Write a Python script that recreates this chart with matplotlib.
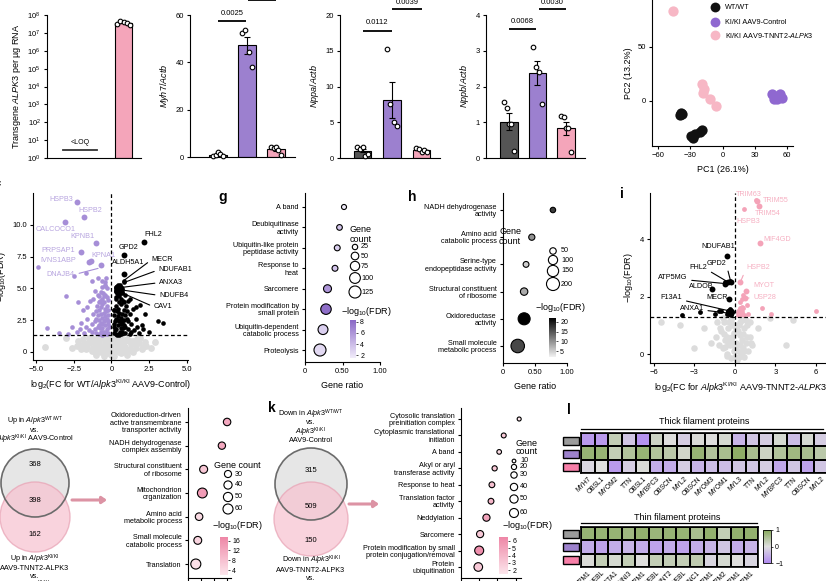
import matplotlib
matplotlib.use("Agg")
import matplotlib.pyplot as plt
import numpy as np
from matplotlib.colors import LinearSegmentedColormap, Normalize
from matplotlib.patches import Circle, Rectangle
from matplotlib.cm import ScalarMappable
from matplotlib.ticker import NullLocator

plt.rcParams['font.family'] = ['Liberation Sans', 'DejaVu Sans']
plt.rcParams['font.size'] = 5.5
plt.rcParams['axes.linewidth'] = 0.8
plt.rcParams['xtick.major.width'] = 0.8
plt.rcParams['ytick.major.width'] = 0.8
plt.rcParams['xtick.major.size'] = 2.5
plt.rcParams['ytick.major.size'] = 2.5
plt.rcParams['xtick.major.pad'] = 2
plt.rcParams['ytick.major.pad'] = 2
plt.rcParams['xtick.labelsize'] = 5.5
plt.rcParams['ytick.labelsize'] = 5.5
plt.rcParams['mathtext.fontset'] = 'custom'
plt.rcParams['mathtext.rm'] = 'Liberation Sans'
plt.rcParams['mathtext.it'] = 'Liberation Sans:italic'
plt.rcParams['mathtext.bf'] = 'Liberation Sans:bold'

# ---------------- data ----------------
# transgene ALPK3 copies per ug RNA
loq_level = 2.8
transgene_alpk3 = [3.0e7, 4.5e7, 4.0e7, 3.8e7, 2.6e7]

# qPCR ratios (WT/WT, KI/KI AAV9-Control, KI/KI AAV9-TNNT2-ALPK3)
myh7_wt = [0.3, 1.0, 2.0, 1.3, 0.5]
myh7_ctrl = [52.5, 53.5, 44.5, 38.0]
myh7_alpk3 = [4.2, 4.0, 4.1, 3.0, 0.8]
nppa_wt = [1.5, 1.2, 1.5, 0.3, 0.6]
nppa_ctrl = [15.3, 7.6, 5.0, 4.5]
nppa_alpk3 = [1.4, 1.3, 0.9, 1.1, 0.8]
nppb_wt = [1.57, 1.41, 0.95, 0.95, 0.19]
nppb_ctrl = [3.1, 2.55, 2.4, 1.5]
nppb_alpk3 = [1.18, 1.15, 0.83, 0.83, 0.17]

# PCA
pca_wt_x = [-40, -38.5, -37.5, -29, -27.5, -26, -21, -19.5]
pca_wt_y = [-13, -11, -12, -32, -34, -31, -29, -27]
pca_ctrl_x = [46.5, 48, 50.5, 53.5, 55]
pca_ctrl_y = [6, 2, 1.5, 6, 2.5]
pca_alpk3_x = [-46, -19, -18, -17, -12, -6]
pca_alpk3_y = [83, 16, 7, 11, 2, -5]

# volcano f (WT vs KI/KI control)
f_grey = [(-2.6, 0.3), (-2.3, 0.5), (-2.0, 0.2), (-1.8, 0.7), (-1.6, 0.4), (-1.4, 0.9), (-1.3, 0.1),
          (-1.1, 0.6), (-1.0, 1.1), (-0.9, 0.3), (-0.8, 0.8), (-0.7, 0.0), (-0.6, 1.2), (-0.5, 0.5),
          (-0.4, 0.9), (-0.3, 0.2), (-0.2, 1.1), (-0.1, 0.6), (0.0, 0.0), (0.1, 0.7), (0.2, 1.2),
          (0.3, 0.3), (0.4, 0.9), (0.5, 0.5), (0.6, 1.1), (0.7, 0.2), (0.8, 0.8), (0.9, 0.4),
          (1.0, 1.0), (1.1, 0.1), (1.3, 0.6), (1.4, 0.9), (1.6, 0.3), (1.8, 0.7), (2.0, 0.2),
          (2.3, 0.5), (2.6, 0.3), (-1.9, 1.0), (-1.5, 1.1), (-1.2, 0.3), (-0.9, 0.5), (-0.6, 0.2),
          (-0.3, 0.7), (0.0, -0.2), (0.3, 0.4), (0.6, -0.1), (0.9, 0.9), (1.2, 0.2), (1.5, 0.6),
          (1.9, 1.1), (-1.0, -0.2), (-0.5, -0.3), (0.0, 0.4), (0.5, 0.0), (1.0, -0.2), (-0.7, 0.5),
          (-0.2, 0.8), (0.2, 0.0), (0.7, 0.6), (-3.0, 1.1), (2.9, 0.8), (-4.4, 0.4),
          (-2.2, 0.9), (-1.7, 0.2), (-1.5, 0.7), (-1.2, 1.0), (-0.8, 0.3), (-0.4, 0.1), (0.1, 1.0),
          (0.4, 0.2), (0.8, 0.1), (1.2, 0.9), (1.7, 1.0), (2.2, 0.8), (-0.5, 1.2), (0.3, 1.1),
          (-1.1, 0.0), (1.4, 0.0), (-2.0, 0.5), (2.1, 0.4), (-0.3, -0.1), (0.2, -0.3)]
f_purple = [(-0.2, 1.5), (-0.3, 1.8), (-0.4, 2.1), (-0.5, 2.4), (-0.6, 2.7), (-0.7, 3.0), (-0.8, 3.3),
            (-0.3, 3.6), (-0.5, 3.9), (-0.6, 4.2), (-0.4, 4.5), (-0.3, 5.0), (-0.9, 2.0), (-1.0, 2.6),
            (-0.2, 2.9), (-0.35, 3.2), (-0.55, 1.6), (-0.75, 1.9), (-0.65, 2.2), (-0.85, 2.5),
            (-0.45, 2.8), (-0.25, 2.4), (-0.15, 2.0), (-0.95, 3.6), (-0.75, 4.0), (-0.55, 4.6),
            (-0.45, 5.3), (-1.1, 1.8), (-1.3, 2.2), (-1.5, 1.7), (-1.2, 3.0), (-1.6, 2.6), (-1.8, 1.5),
            (-2.0, 2.3), (-2.3, 1.6), (-1.4, 4.0), (-1.1, 4.8), (-1.3, 5.6), (-0.9, 5.8), (-1.9, 3.3),
            (-2.2, 3.9), (-2.6, 2.0), (-3.0, 4.4), (-4.3, 1.9), (-4.9, 6.7), (-3.5, 1.5), (-2.5, 6.0),
            (-1.7, 6.2), (-0.8, 1.4), (-0.6, 1.35), (-0.35, 1.5), (-2.9, 1.4), (-0.7, 3.5),
            (-0.85, 4.4), (-0.25, 4.1), (-0.65, 5.1), (-1.0, 1.5), (-0.4, 1.6),
            (-0.3, 2.6), (-0.5, 3.1), (-0.7, 2.3), (-0.9, 2.9), (-0.4, 3.4), (-0.6, 3.8), (-0.8, 3.9),
            (-0.2, 3.3), (-0.3, 4.3), (-0.5, 4.4), (-0.7, 4.7), (-0.4, 5.2), (-0.6, 1.9), (-0.4, 2.5),
            (-0.2, 2.2), (-0.8, 2.1), (-1.0, 3.2), (-1.1, 2.4), (-1.3, 1.6), (-0.5, 1.45), (-0.3, 1.4),
            (-0.7, 1.6), (-1.2, 4.2), (-0.9, 4.5), (-1.6, 3.5), (-1.7, 2.0), (-2.1, 1.8), (-0.45, 5.5),
            (-0.6, 5.6), (-0.35, 5.8)]
f_black = [(0.2, 1.5), (0.3, 1.8), (0.4, 2.1), (0.5, 2.4), (0.6, 2.7), (0.7, 3.0), (0.8, 3.3),
           (0.3, 3.6), (0.5, 3.9), (0.6, 4.2), (0.4, 4.5), (0.3, 4.8), (0.9, 2.0), (1.0, 2.6),
           (0.2, 2.9), (0.35, 3.2), (0.55, 1.6), (0.75, 1.9), (0.65, 2.2), (0.85, 2.5), (0.45, 2.8),
           (0.25, 2.4), (0.15, 2.0), (0.95, 3.6), (0.75, 4.0), (0.55, 4.6), (0.8, 5.5), (0.8, 5.6),
           (1.1, 1.8), (1.3, 2.2), (1.5, 1.7), (1.2, 3.0), (1.6, 2.6), (1.8, 1.5), (2.0, 2.1),
           (1.1, 4.0), (1.4, 3.4), (2.5, 1.6), (3.1, 2.4), (3.4, 2.3), (2.2, 3.0), (1.9, 3.7),
           (1.2, 1.4), (0.35, 1.35), (0.6, 1.4), (0.9, 1.5), (0.3, 4.2), (0.7, 4.6), (0.2, 3.3),
           (0.5, 1.3), (0.7, 2.4),
           (0.3, 2.6), (0.5, 3.1), (0.7, 2.3), (0.9, 2.9), (0.4, 3.4), (0.6, 3.8), (0.8, 3.9),
           (0.2, 3.3), (0.3, 4.3), (0.5, 4.4), (0.7, 4.7), (0.2, 2.2), (0.6, 1.9), (0.4, 2.5),
           (0.8, 2.1), (1.0, 3.2), (1.1, 2.4), (1.3, 1.6), (0.5, 1.45), (0.3, 1.4), (0.7, 1.6),
           (1.2, 4.2), (0.9, 4.5), (1.6, 3.5), (1.7, 2.0), (2.1, 1.8), (0.4, 5.3), (0.3, 5.1),
           (0.55, 5.3), (0.25, 1.7)]
f_big_black = [(0.45, 5.0), (0.55, 4.95), (0.4, 4.8)]
f_purple_named = [("HSPB3", -2.3, 11.8, -3.35, 12.0), ("HSPB2", -1.8, 10.6, -1.4, 11.1),
                  ("CALCOCO1", -3.1, 10.2, -3.7, 9.6), ("KPNB1", -1.0, 8.6, -1.9, 9.05),
                  ("PRPSAP1", -2.0, 7.9, -3.5, 8.0), ("KPNA1", -0.7, 6.8, -0.55, 7.55),
                  ("IVNS1ABP", -1.5, 7.05, -3.5, 7.2)]
f_dnajb4 = ("DNAJB4", -0.8, 6.6, -3.35, 6.1)
f_extra_purple = [(-1.35, 7.15)]
f_black_named = [("FHL2", 2.15, 8.65, 2.75, 9.2), ("GPD2", 0.8, 7.65, 1.1, 8.2),
                 ("ALDH5A1", 0.8, 6.15, 1.1, 7.0)]
f_black_lines = [("MECR", 0.8, 5.6, 2.65, 7.25), ("NDUFAB1", 0.8, 5.45, 3.1, 6.45),
                 ("ANXA3", 0.5, 5.05, 3.15, 5.45), ("NDUFB4", 0.55, 4.9, 3.15, 4.45),
                 ("CAV1", 0.6, 4.7, 2.8, 3.55)]

# volcano i (KI/KI ALPK3 vs WT)
i_grey = [(-1.2, 0.3), (-1.0, 0.8), (-0.9, 0.2), (-0.8, 1.1), (-0.7, 0.5), (-0.6, 0.0), (-0.5, 0.9),
          (-0.4, 0.3), (-0.3, 1.2), (-0.2, 0.6), (-0.1, 0.1), (0.0, 1.0), (0.1, 0.4), (0.2, 0.8),
          (0.3, -0.1), (0.4, 1.1), (0.5, 0.5), (0.6, 0.2), (0.7, 0.9), (0.8, 0.4), (0.9, 1.0),
          (1.0, 0.1), (1.1, 0.6), (1.3, 0.3), (-1.4, 0.6), (-0.3, -0.15), (0.2, 0.1), (-0.6, 0.6),
          (0.5, 1.2), (-0.9, 1.25), (0.15, -0.2), (-0.15, 0.35), (0.35, 0.65), (0.65, -0.1),
          (-0.45, 1.1), (-5.5, 1.1), (-4.1, 1.0), (-2.3, 0.9), (-1.8, 0.4), (1.7, 0.9),
          (2.6, 1.25), (3.8, 0.3), (4.3, 1.2), (-3.0, 0.2), (-0.05, 0.75), (0.45, 0.0), (-0.75, 0.25),
          (-0.8, 0.7), (-0.3, 0.5), (0.0, 0.2), (0.3, 1.0), (0.6, 0.7), (0.9, 0.6), (1.1, 1.1),
          (-1.1, 0.9), (-0.5, 0.4), (0.1, 0.9), (0.4, 0.3), (-0.2, 1.0), (0.8, 1.2), (0.0, -0.1),
          (-0.6, -0.05), (0.7, 0.1), (1.2, 0.4), (-1.3, 1.1)]
i_pink = [(0.6, 2.05), (0.7, 1.95), (0.5, 1.9), (0.4, 1.8), (0.6, 1.6), (0.35, 1.6), (0.45, 1.5),
          (0.35, 1.4), (0.5, 1.38), (0.7, 1.35), (2.0, 1.6), (2.7, 1.4), (6.0, 1.5), (1.0, 1.4),
          (0.25, 1.35), (0.55, 1.65), (0.65, 5.05), (1.55, 5.35), (0.9, 1.7)]
i_black = [(-0.5, 2.5), (-0.35, 2.55), (-0.7, 2.5), (-0.4, 1.55), (-0.35, 1.45), (-0.45, 1.4),
           (-0.3, 1.35), (-0.5, 1.5), (-0.6, 1.38), (-0.25, 1.45), (-1.0, 1.5), (-1.2, 1.5),
           (-1.5, 1.4), (-2.6, 1.45), (-3.9, 1.35)]
i_pink_named = [("TRIM55", 1.6, 5.33, 2.1, 5.33), ("TRIM54", 1.8, 5.15, 1.45, 4.9),
                ("MIF4GD", 1.85, 3.87, 2.1, 4.0), ("MYOT", 0.8, 2.2, 1.35, 2.4)]
i_pink_text = [("TRIM63", 0.1, 5.55), ("HSPB3", 0.1, 4.6)]
i_pink_lines = [("HSPB2", 0.4, 2.5, 0.85, 3.0), ("USP28", 0.75, 1.95, 1.35, 1.95)]
i_black_named = [("NDUFAB1", -0.6, 3.4, -1.25, 3.75), ("ALDOB", -1.7, 2.25, -2.5, 2.35),
                 ("MECR", -0.45, 1.92, -1.3, 1.95)]
i_black_lines = [("GPD2", -0.3, 2.5, -1.35, 3.15), ("FHL2", -0.5, 2.5, -2.7, 3.0),
                 ("ATP5MG", -0.7, 2.45, -4.6, 2.65), ("F13A1", -0.4, 1.5, -4.7, 1.95),
                 ("ANXA1", -0.4, 1.42, -3.2, 1.6)]

# GO enrichment dot plots
g_terms = ["A band", "Deubiquitinase\nactivity", "Ubiquitin-like protein\npeptidase activity",
           "Response to\nheat", "Sarcomere", "Protein modification by\nsmall protein",
           "Ubiquitin-dependent\ncatabolic process", "Proteolysis"]
g_ratio = [0.52, 0.46, 0.43, 0.40, 0.30, 0.28, 0.24, 0.20]
g_count = [22, 28, 30, 30, 55, 95, 85, 125]
g_fdr = [1.5, 3.5, 3.0, 3.5, 6.0, 8.0, 3.0, 2.5]

h_terms = ["NADH dehydrogenase\nactivity", "Amino acid\ncatabolic process",
           "Serine-type\nendopeptidase activity", "Structural constituent\nof ribosome",
           "Oxidoreductase\nactivity", "Small molecule\nmetabolic process"]
h_ratio = [0.78, 0.45, 0.36, 0.33, 0.33, 0.23]
h_count = [35, 45, 40, 65, 170, 215]
h_fdr = [17, 10, 5, 8, 22, 16]

j_terms = ["Oxidoreduction-driven\nactive transmembrane\ntransporter activity",
           "NADH dehydrogenase\ncomplex assembly", "Structural constituent\nof ribosome",
           "Mitochondrion\norganization", "Amino acid\nmetabolic process",
           "Small molecule\ncatabolic process", "Translation"]
j_ratio = [0.30, 0.26, 0.12, 0.11, 0.085, 0.075, 0.06]
j_count = [33, 32, 38, 58, 34, 37, 60]
j_fdr = [12, 12, 7, 14, 4, 5, 3]

k_terms = ["Cytosolic translation\npreinitiation complex", "Cytoplasmic translational\ninitiation",
           "A band", "Akyl or aryl\ntransferase activity", "Response to heat",
           "Translation factor\nactivity", "Neddylation", "Sarcomere",
           "Protein modification by small\nprotein conjugation/removal", "Protein\nubiquitination"]
k_ratio = [0.32, 0.235, 0.21, 0.185, 0.17, 0.165, 0.14, 0.105, 0.10, 0.095]
k_count = [12, 18, 16, 20, 25, 25, 38, 38, 60, 55]
k_fdr = [1.5, 3, 2, 3, 3.5, 4, 5, 3, 6, 3]

# Venn counts
venn_up = [368, 398, 162]
venn_down = [315, 509, 150]

# heatmaps (z-scores; rows WT/WT, KI/KI control, KI/KI ALPK3)
thick_cols = ["MYH7", "OBSL1", "MYOM2", "TTN", "OBSL1", "MYBPC3", "OBSCN", "MYL2", "OBSCN",
              "MYOM3", "MYOM1", "MYL3", "TTN", "MYL2", "MYBPC3", "TTN", "OBSCN", "MYL2"]
thick_wt = [-0.8, -0.8, 0.3, -0.3, -0.9, 0.2, 0.0, -0.2, 0.05, 0.0, 0.1, -0.5, -0.3, -0.2, 0.1, -0.4, 0.1, -0.2]
thick_ctrl = [0.8, 0.8, 0.3, 0.5, 0.8, 0.5, 0.4, 0.15, 0.8, 0.5, 0.6, 0.9, 0.6, 0.2, 0.5, 0.7, 0.6, 0.4]
thick_alpk3 = [-0.1, 0.0, -0.8, -0.2, 0.05, -0.6, -0.6, -0.2, -0.5, -0.4, -0.4, -0.3, -0.3, -0.2, -0.65, -0.3, -0.7, -0.3]
thin_cols = ["TPM1", "NEBL", "ACTA1", "TNNI3", "TPM1", "NEBL", "TNNT2", "NEBL", "TNNC1",
             "TPM1", "TPM2", "TPM1", "TPM1"]
thin_wt = [0.8, 0.8, 0.8, 0.7, 0.85, 0.75, 0.8, 0.8, 0.6, 0.85, 0.3, 0.85, 0.85]
thin_ctrl = [-0.6, -0.7, -0.6, -0.5, -0.6, -0.7, -0.6, -0.7, -0.6, -0.5, -0.3, -0.6, -0.5]
thin_alpk3 = [0.05, 0.3, 0.1, 0.3, 0.0, 0.3, 0.3, 0.3, 0.35, -0.1, 0.1, 0.0, -0.1]

# ---------------- style ----------------
C_GREY = "#555555"
C_PURPLE = "#9c80cf"
C_PINK = "#f4a5ba"
C_PCA_PURPLE = "#8f68d0"
C_PCA_PINK = "#f7b7c5"
C_F_PURPLE = "#a68ed7"
C_F_LABEL = "#b7a4df"
C_I_PINK = "#f4a3b8"
C_I_LABEL = "#f6b0c2"
C_VOL_GREY = "#dcdcdc"

W, H = 826, 581
fig = plt.figure(figsize=(W / 100, H / 100), dpi=100)


def add_ax(l, t, r, b):
    return fig.add_axes([l / W, 1 - b / H, (r - l) / W, (b - t) / H])


def clean(ax):
    ax.spines['top'].set_visible(False)
    ax.spines['right'].set_visible(False)


def bar_panel(ax, groups, xl, ylim, yticks, ylabel):
    for i, (vals, c) in enumerate(zip(groups, [C_GREY, C_PURPLE, C_PINK])):
        vals = np.asarray(vals, float)
        m = vals.mean()
        se = vals.std(ddof=1) / np.sqrt(len(vals))
        ax.bar(i, m, width=0.6, color=c, edgecolor='black', lw=0.8, zorder=1)
        ax.errorbar(i, m, yerr=se, fmt='none', ecolor='black', elinewidth=0.8,
                    capsize=2.5, capthick=0.8, zorder=2)
        off = np.linspace(-0.17, 0.17, len(vals))
        ax.scatter(i + off, vals, s=11, facecolor='white', edgecolor='black', lw=0.8,
                   zorder=3, clip_on=False)
    ax.set_xlim(*xl)
    ax.set_ylim(*ylim)
    ax.set_yticks(yticks)
    ax.set_xticks([])
    ax.set_ylabel(ylabel, fontsize=6.5, labelpad=3)
    clean(ax)


def sig(ax, x0, x1, y, label, dy):
    ax.plot([x0, x1], [y, y], color='black', lw=1.3, clip_on=False, solid_capstyle='butt')
    ax.text((x0 + x1) / 2, y + dy, label, ha='center', va='bottom', fontsize=5.5, clip_on=False)


# ---- transgene ----
ax = add_ax(47, 15, 141, 158)
ax.set_yscale('log')
ax.bar(1, np.mean(transgene_alpk3), width=0.39, bottom=1, color=C_PINK, edgecolor='black', lw=0.8)
ax.scatter(1 + np.linspace(-0.15, 0.15, 5), transgene_alpk3, s=11, facecolor='white',
           edgecolor='black', lw=0.8, zorder=3, clip_on=False)
ax.plot([-0.39, 0.39], [loq_level, loq_level], color='#333333', lw=1.3)
ax.text(0, loq_level * 1.6, "<LOQ", ha='center', va='bottom', fontsize=5)
ax.set_ylim(1, 1e8)
ax.set_xlim(-0.76, 1.40)
ax.set_yticks([10 ** k for k in range(9)])
ax.yaxis.set_minor_locator(NullLocator())
ax.set_xticks([])
ax.set_ylabel(r"Transgene $\mathit{ALPK3}$ per µg RNA", fontsize=6.5, labelpad=3)
clean(ax)

# ---- Myh7 ----
ax = add_ax(190, 15, 295, 157)
bar_panel(ax, [myh7_wt, myh7_ctrl, myh7_alpk3], (-0.966, 2.655), (0, 60), [0, 20, 40, 60],
          r"$\mathit{Myh7/Actb}$")
sig(ax, 0, 0.97, 57.5, "0.0025", 1.5)
sig(ax, 1.03, 2.0, 66.3, "0.0019", 1.5)

# ---- Nppa ----
ax = add_ax(340, 15, 440, 158)
bar_panel(ax, [nppa_wt, nppa_ctrl, nppa_alpk3], (-0.763, 2.627), (0, 20), [0, 5, 10, 15, 20],
          r"$\mathit{Nppa/Actb}$")
sig(ax, 0, 1.0, 17.8, "0.0112", 0.6)
sig(ax, 1.0, 2.0, 20.8, "0.0039", 0.4)

# ---- Nppb ----
ax = add_ax(486, 15, 585, 158)
bar_panel(ax, [nppb_wt, nppb_ctrl, nppb_alpk3], (-0.807, 2.667), (0, 4), [0, 1, 2, 3, 4],
          r"$\mathit{Nppb/Actb}$")
sig(ax, 0, 0.95, 3.6, "0.0068", 0.12)
sig(ax, 1.05, 2.0, 4.17, "0.0030", 0.08)

# ---- PCA ----
ax = add_ax(652, 0, 793, 146)
ax.scatter(pca_wt_x, pca_wt_y, s=55, color='#111111', lw=0)
ax.scatter(pca_ctrl_x, pca_ctrl_y, s=55, color=C_PCA_PURPLE, lw=0)
ax.scatter(pca_alpk3_x, pca_alpk3_y, s=55, color=C_PCA_PINK, lw=0)
ax.set_xlim(-65.6, 65.6)
ax.set_ylim(-41.7, 93.5)
ax.set_xticks([-60, -30, 0, 30, 60])
ax.set_yticks([0, 50])
ax.set_xlabel("PC1 (26.1%)", fontsize=6.5, labelpad=4)
ax.set_ylabel("PC2 (13.2%)", fontsize=6.5, labelpad=3)
clean(ax)
leg_items = [('#111111', "WT/WT"), (C_PCA_PURPLE, "KI/KI AAV9-Control"),
             (C_PCA_PINK, r"KI/KI AAV9-TNNT2-$\mathit{ALPK3}$")]
for k, (c, lab) in enumerate(leg_items):
    yy = [0.952, 0.849, 0.760][k]
    ax.scatter([0.45], [yy], s=50, color=c, lw=0, transform=ax.transAxes, clip_on=False)
    ax.text(0.515, yy, lab, transform=ax.transAxes, va='center', ha='left', fontsize=5.2)

# ---- volcano f ----
ax = add_ax(33, 193, 188, 360)
gx, gy = np.array(f_grey).T
ax.scatter(gx, gy, s=24, color=C_VOL_GREY, lw=0, zorder=1)
px, py = np.array(f_purple).T
ax.scatter(px, py, s=11, color=C_F_PURPLE, lw=0, zorder=2)
bx, by = np.array(f_black).T
ax.scatter(bx, by, s=11, color='black', lw=0, zorder=2)
bbx, bby = np.array(f_big_black).T
ax.scatter(bbx, bby, s=40, color='black', lw=0, zorder=3)
for name, x, y, tx, ty in f_purple_named:
    ax.scatter([x], [y], s=18, color=C_F_PURPLE, lw=0, zorder=3)
    ax.text(tx, ty, name, color=C_F_LABEL, ha='center', va='center', fontsize=5.2)
ex, ey = np.array(f_extra_purple).T
ax.scatter(ex, ey, s=18, color=C_F_PURPLE, lw=0, zorder=3)
name, x, y, tx, ty = f_dnajb4
ax.annotate(name, xy=(x, y), xytext=(tx, ty), color=C_F_LABEL, ha='center', va='center', fontsize=5.2,
            arrowprops=dict(arrowstyle='-', color=C_F_PURPLE, lw=0.8, relpos=(1, 0.5), shrinkA=1, shrinkB=1))
for name, x, y, tx, ty in f_black_named:
    ax.scatter([x], [y], s=18, color='black', lw=0, zorder=3)
    ax.text(tx, ty, name, ha='center', va='center', fontsize=5.2)
for name, x, y, tx, ty in f_black_lines:
    ax.annotate(name, xy=(x, y), xytext=(tx, ty), ha='left', va='center', fontsize=5.2,
                arrowprops=dict(arrowstyle='-', color='black', lw=0.8, relpos=(0, 0.5), shrinkA=1, shrinkB=1))
ax.axhline(1.3, color='black', lw=0.9, dashes=(3, 2), zorder=4)
ax.axvline(0, color='black', lw=0.9, dashes=(3, 2), zorder=4)
ax.set_xlim(-5.2, 5.07)
ax.set_ylim(-0.63, 12.5)
ax.set_xticks([-5, -2.5, 0, 2.5, 5])
ax.set_xticklabels(["\u22125.0", "\u22122.5", "0", "2.5", "5.0"])
ax.set_yticks([0, 2.5, 5, 7.5, 10])
ax.set_yticklabels(["0", "2.5", "5.0", "7.5", "10.0"])
ax.set_xlabel(r"log$_2$(FC for WT/$\mathit{Alpk3}^{\mathrm{KI/KI}}$ AAV9-Control)", fontsize=6.5, labelpad=3)
ax.set_ylabel("\u2212log$_{10}$(FDR)", fontsize=6.5, labelpad=3)
clean(ax)

# ---- volcano i ----
ax = add_ax(650, 193, 832, 363)
gx, gy = np.array(i_grey).T
ax.scatter(gx, gy, s=22, color=C_VOL_GREY, lw=0, zorder=1)
px, py = np.array(i_pink).T
ax.scatter(px, py, s=12, color=C_I_PINK, lw=0, zorder=2)
ax.scatter([0.4], [1.45], s=40, color=C_I_PINK, lw=0, zorder=2)
bx, by = np.array(i_black).T
ax.scatter(bx, by, s=12, color='black', lw=0, zorder=3)
ax.scatter([-0.4], [1.45], s=40, color='black', lw=0, zorder=3)
for name, x, y, tx, ty in i_pink_named:
    ax.scatter([x], [y], s=18, color=C_I_PINK, lw=0, zorder=3)
    ax.text(tx, ty, name, color=C_I_LABEL, ha='left', va='center', fontsize=5.2)
for name, tx, ty in i_pink_text:
    ax.text(tx, ty, name, color=C_I_LABEL, ha='left', va='center', fontsize=5.2)
for name, x, y, tx, ty in i_pink_lines:
    ax.scatter([x], [y], s=18, color=C_I_PINK, lw=0, zorder=3)
    ax.annotate(name, xy=(x, y), xytext=(tx, ty), color=C_I_LABEL, ha='left', va='center', fontsize=5.2,
                arrowprops=dict(arrowstyle='-', color=C_I_PINK, lw=0.8, relpos=(0, 0.5), shrinkA=1, shrinkB=1))
for name, x, y, tx, ty in i_black_named:
    ax.scatter([x], [y], s=18, color='black', lw=0, zorder=3)
    ax.text(tx, ty, name, ha='center', va='center', fontsize=5.2)
for name, x, y, tx, ty in i_black_lines:
    ax.scatter([x], [y], s=18, color='black', lw=0, zorder=3)
    ax.annotate(name, xy=(x, y), xytext=(tx, ty), ha='center', va='center', fontsize=5.2,
                arrowprops=dict(arrowstyle='-', color='black', lw=0.8, relpos=(1, 0.2), shrinkA=1, shrinkB=1))
ax.axhline(1.3, color='black', lw=0.9, dashes=(3, 2), zorder=4)
ax.axvline(0, color='black', lw=0.9, dashes=(3, 2), zorder=4)
ax.set_xlim(-6.3, 7.2)
ax.set_ylim(-0.31, 5.6)
ax.set_xticks([-6, -3, 0, 3, 6])
ax.set_yticks([0, 2, 4])
ax.set_xlabel(r"log$_2$(FC for $\mathit{Alpk3}^{\mathrm{KI/KI}}$ AAV9-TNNT2-$\mathit{ALPK3}$/WT)",
              fontsize=6.5, labelpad=3, x=0.55)
ax.set_ylabel("\u2212log$_{10}$(FDR)", fontsize=6.5, labelpad=3)
clean(ax)

# ---- dot plots ----
cm_g = LinearSegmentedColormap.from_list("g", ["#f1ecfa", "#8a68c6"])
cm_h = LinearSegmentedColormap.from_list("h", ["#f2f2f2", "#000000"])
cm_p = LinearSegmentedColormap.from_list("p", ["#fce6ec", "#ee86a6"])
norm_g = Normalize(1.5, 8.3)
norm_h = Normalize(2, 22)
norm_j = Normalize(2, 17.5)
norm_k = Normalize(1.5, 6.5)


def dotplot(ax, terms, ratio, count, fdr, cmap, norm, sfac, xlim, ylim, xticks, xticklabels):
    y = np.arange(len(terms))
    ax.scatter(ratio, y, s=np.array(count) * sfac, c=fdr, cmap=cmap, norm=norm,
               edgecolor='black', lw=0.8, zorder=3, clip_on=False)
    ax.set_yticks(y)
    ax.set_yticklabels(terms, fontsize=5.2, linespacing=1.05)
    for lbl in ax.get_yticklabels():
        lbl.set_multialignment('right')
    ax.set_xlim(*xlim)
    ax.set_ylim(*ylim)
    ax.set_xticks(xticks)
    ax.set_xticklabels(xticklabels)
    clean(ax)


ax = add_ax(305, 193, 380, 362)
dotplot(ax, g_terms, g_ratio, g_count, g_fdr, cm_g, norm_g, 0.6, (0, 1.0), (7.587, -0.685),
        [0, 0.5, 1.0], ["0", "0.50", "1.00"])
ax.set_xlabel("Gene ratio", fontsize=6.5, labelpad=4)

ax = add_ax(503, 193, 567, 363)
dotplot(ax, h_terms, h_ratio, h_count, h_fdr, cm_h, norm_h, 0.44, (0, 1.0), (5.625, -0.625),
        [0, 0.5, 1.0], ["0", "0.50", "1.00"])
ax.set_xlabel("Gene ratio", fontsize=6.5, labelpad=4)

ax = add_ax(188, 408, 231, 578)
dotplot(ax, j_terms, j_ratio, j_count, j_fdr, cm_p, norm_j, 0.87, (0, 0.33), (6.59, -0.59),
        [0, 0.1, 0.2, 0.3], ["0", "0.1", "0.2", "0.3"])

ax = add_ax(461, 408, 521, 578)
dotplot(ax, k_terms, k_ratio, k_count, k_fdr, cm_p, norm_k, 0.7, (0, 0.33), (9.67, -0.67),
        [0, 0.1, 0.2, 0.3], ["0", "0.1", "0.2", "0.3"])


def cbar(l, t, r, b, cmap, norm, ticks, outline=False, labels=None):
    cax = add_ax(l, t, r, b)
    cb = fig.colorbar(ScalarMappable(norm=norm, cmap=cmap), cax=cax, ticks=ticks)
    cb.outline.set_visible(outline)
    if outline:
        cb.outline.set_linewidth(0.6)
    if labels is not None:
        cb.set_ticklabels(labels)
    cax.tick_params(labelsize=5, length=1.5, width=0.5, pad=1.5)
    return cb


cbar(350, 320, 356, 358, cm_g, norm_g, [2, 4, 6, 8])
cbar(549, 318, 556, 357, cm_h, norm_h, [5, 10, 15, 20])
cbar(220, 537, 228, 575, cm_p, norm_j, [4, 8, 12, 16])
cbar(499, 537, 508, 574, cm_p, norm_k, [2, 3, 4, 5, 6])

# ---- heatmaps ----
cm_hm = LinearSegmentedColormap.from_list("hm", ["#b08af0", "#dedede", "#86a85a"])


def heatmap(ax, rows, cols):
    data = np.array(rows)
    ax.pcolormesh(data, cmap=cm_hm, vmin=-1, vmax=1, edgecolors='black', linewidth=1.2)
    ax.set_ylim(len(rows), 0)
    ax.set_xlim(0, len(cols))
    ax.set_yticks([])
    ax.set_xticks(np.arange(len(cols)) + 0.5)
    ax.set_xticklabels(cols, rotation=45, ha='right', rotation_mode='anchor', fontsize=4.8)
    ax.tick_params(axis='x', length=0, pad=2)
    for s in ax.spines.values():
        s.set_linewidth(1.2)


ax = add_ax(581, 433, 828, 473)
heatmap(ax, [thick_wt, thick_ctrl, thick_alpk3], thick_cols)
ax = add_ax(581, 527, 758, 567)
heatmap(ax, [thin_wt, thin_ctrl, thin_alpk3], thin_cols)
cbar(763, 530, 771, 563, cm_hm, Normalize(-1, 1), [-1, 0, 1], outline=True,
     labels=["\u22121", "0", "1"])

# ---- overlay in pixel coordinates ----
ov = fig.add_axes([0, 0, 1, 1])
ov.set_xlim(0, W)
ov.set_ylim(H, 0)
ov.axis('off')
ov.set_zorder(10)

for lab, x, y in [("f", -2, 188), ("g", 223, 197), ("h", 412, 197), ("i", 622, 194),
                  ("j", -4, 402), ("k", 272, 408), ("l", 569, 410)]:
    ov.text(x, y, lab, fontsize=10, fontweight='bold', ha='center', va='center')


# size legends
def size_legend(title_lines, x, ys, counts, sfac, xlab):
    ov.scatter([x] * len(ys), ys, s=np.array(counts) * sfac, facecolor='white',
               edgecolor='black', lw=0.8)
    for yy, cc in zip(ys, counts):
        ov.text(xlab, yy, str(cc), va='center', ha='left', fontsize=5.2)
    for (tx, ty, txt) in title_lines:
        ov.text(tx, ty, txt, ha='center', va='center', fontsize=6.5)


size_legend([(361, 230, "Gene"), (361, 240, "count")], 355, [247, 256, 266, 278, 292],
            [25, 50, 75, 100, 125], 0.6, 361)
ov.text(366, 311, "\u2212log$_{10}$(FDR)", ha='center', va='center', fontsize=6.5)
size_legend([(510, 231, "Gene"), (510, 241, "count")], 553, [251, 260, 271, 284],
            [50, 100, 150, 200], 0.44, 561)
ov.text(560, 308, "\u2212log$_{10}$(FDR)", ha='center', va='center', fontsize=6.5)
size_legend([(237, 465, "Gene count")], 228, [474, 485, 497, 509], [30, 40, 50, 60], 0.87, 235)
ov.text(237, 526, "\u2212log$_{10}$(FDR)", ha='center', va='center', fontsize=6.5)
size_legend([(526, 443, "Gene"), (527, 452, "count")], 514, [461, 467, 475, 487, 499, 513],
            [10, 20, 30, 40, 50, 60], 0.7, 520)
ov.text(527, 526, "\u2212log$_{10}$(FDR)", ha='center', va='center', fontsize=6.5)


def venn(cx, cy_top, cy_bot, r_top, r_bot, counts, ys, top_text, bot_text, arrow):
    ov.add_patch(Circle((cx, cy_top), r_top, facecolor='#e6e6e6', edgecolor='none'))
    ov.add_patch(Circle((cx, cy_bot), r_bot, facecolor='#f8c3d0', alpha=0.72, edgecolor='#e8a3b5', lw=1.0))
    ov.add_patch(Circle((cx, cy_top), r_top, facecolor='none', edgecolor='#6b6b6b', lw=1.2))
    for n, yy in zip(counts, ys):
        ov.text(cx, yy, str(n), ha='center', va='center', fontsize=5.5)
    for (yy, txt) in top_text + bot_text:
        ov.text(cx, yy, txt, ha='center', va='center', fontsize=5.2)
    x0, x1, ya = arrow
    ov.annotate("", xy=(x1, ya), xytext=(x0, ya),
                arrowprops=dict(arrowstyle='-|>,head_length=0.5,head_width=0.35', color='#dc93a4',
                                lw=2.2, shrinkA=0, shrinkB=0))


venn(35, 483, 517, 34, 35, venn_up, [465, 500, 534],
     [(421, r"Up in $\mathit{Alpk3}^{\mathrm{WT/WT}}$"), (430, "vs."),
      (439, r"$\mathit{Alpk3}^{\mathrm{KI/KI}}$ AAV9-Control")],
     [(559, r"Up in $\mathit{Alpk3}^{\mathrm{KI/KI}}$"), (568, "AAV9-TNNT2-ALPK3"), (576, "vs."),
      (585, r"$\mathit{Alpk3}^{\mathrm{KI/KI}}$")],
     (72, 107, 500))
venn(311, 484, 519, 36, 37, venn_down, [470, 506, 540],
     [(414, r"Down in $\mathit{Alpk3}^{\mathrm{WT/WT}}$"), (423, "vs."),
      (432, r"$\mathit{Alpk3}^{\mathrm{KI/KI}}$"), (441, "AAV9-Control")],
     [(560, r"Down in $\mathit{Alpk3}^{\mathrm{KI/KI}}$"), (570, "AAV9-TNNT2-ALPK3"), (578, "vs.")],
     (349, 379, 504))

# heatmap titles and row annotation boxes
ov.text(704, 422, "Thick filament proteins", ha='center', va='center', fontsize=6.5)
ov.plot([581, 823], [429, 429], color='black', lw=0.9)
ov.text(677, 517, "Thin filament proteins", ha='center', va='center', fontsize=6.5)
ov.plot([581, 757], [523, 523], color='black', lw=0.9)
for tops in ([437, 450, 463], [530, 543, 556]):
    for t, c in zip(tops, ["#9b9b9b", "#9d82cd", "#f77fa8"]):
        ov.add_patch(Rectangle((563, t), 16, 8, facecolor=c, edgecolor='black', lw=1.0))

fig.savefig("out.png", dpi=100)
